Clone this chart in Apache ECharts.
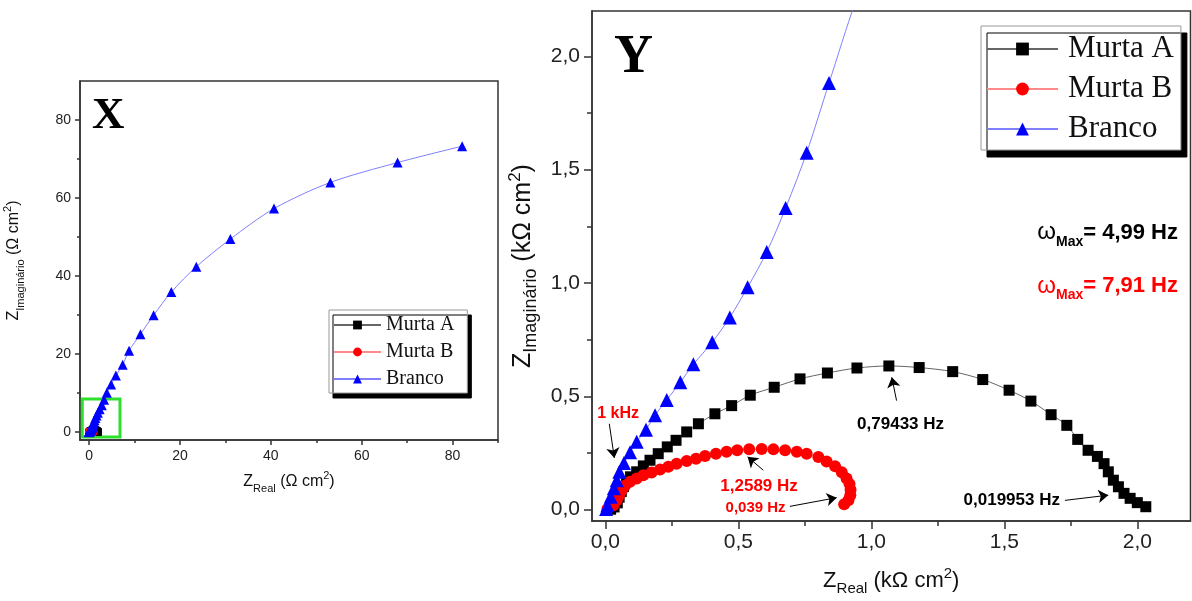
<!DOCTYPE html>
<html>
<head>
<meta charset="utf-8">
<script src="https://cdn.jsdelivr.net/npm/echarts@6/dist/echarts.min.js"></script>
<style>
html, body { margin: 0; padding: 0; background: #fff; }
#chart { width: 1192px; height: 601px; }
</style>
</head>
<body>
<div id="chart"></div>
<script>
// Nyquist data: [Z_real, Z_imaginary], from high to low frequency
const seriesNames = ['Murta A', 'Murta B', 'Branco'];

const murtaA = [
  [0.020, 0.002], [0.033, 0.012], [0.045, 0.030], [0.052, 0.055], [0.060, 0.080],
  [0.068, 0.102], [0.080, 0.124], [0.095, 0.145], [0.118, 0.167], [0.143, 0.193],
  [0.168, 0.218], [0.199, 0.247], [0.233, 0.277], [0.266, 0.306], [0.306, 0.343],
  [0.350, 0.379], [0.412, 0.423], [0.475, 0.459], [0.545, 0.505], [0.635, 0.540],
  [0.732, 0.577], [0.835, 0.603], [0.946, 0.625], [1.066, 0.634], [1.180, 0.627],
  [1.306, 0.609], [1.419, 0.574], [1.518, 0.527], [1.600, 0.479], [1.676, 0.419],
  [1.735, 0.372], [1.776, 0.310], [1.815, 0.262], [1.850, 0.235], [1.875, 0.203],
  [1.891, 0.167], [1.910, 0.130], [1.929, 0.101], [1.950, 0.072], [1.973, 0.050],
  [2.000, 0.031], [2.032, 0.013]
];

const murtaB = [
  [0.008, 0.003], [0.030, 0.020], [0.043, 0.042], [0.052, 0.064], [0.062, 0.086],
  [0.074, 0.105], [0.093, 0.123], [0.118, 0.137], [0.143, 0.152], [0.174, 0.164],
  [0.206, 0.177], [0.237, 0.189], [0.268, 0.203], [0.306, 0.215], [0.341, 0.225],
  [0.375, 0.237], [0.416, 0.247], [0.456, 0.255], [0.496, 0.262], [0.541, 0.267],
  [0.588, 0.268], [0.632, 0.266], [0.676, 0.262], [0.720, 0.256], [0.757, 0.247],
  [0.801, 0.232], [0.832, 0.213], [0.864, 0.191], [0.889, 0.165], [0.907, 0.138],
  [0.918, 0.113], [0.922, 0.088], [0.921, 0.064], [0.914, 0.042], [0.898, 0.024]
];

const branco = [
  [0.003, 0.003], [0.008, 0.020], [0.020, 0.057], [0.032, 0.094], [0.043, 0.130],
  [0.053, 0.167], [0.070, 0.206], [0.093, 0.253], [0.118, 0.300], [0.153, 0.353],
  [0.187, 0.416], [0.231, 0.484], [0.282, 0.562], [0.331, 0.641], [0.402, 0.739],
  [0.468, 0.848], [0.535, 0.981], [0.607, 1.137], [0.678, 1.331], [0.757, 1.575],
  [0.841, 1.882], [0.940, 2.240], [1.060, 2.620], [1.210, 3.080], [1.400, 3.620],
  [1.640, 4.250], [1.940, 4.980], [2.320, 5.850], [2.800, 6.900], [3.300, 8.300],
  [3.900, 10.10], [4.850, 12.20], [5.900, 14.50], [7.400, 17.30], [8.800, 20.90],
  [11.30, 25.10], [14.20, 30.00], [18.10, 35.90], [23.60, 42.40], [31.10, 49.50],
  [40.70, 57.30], [53.10, 64.00], [67.90, 69.10], [82.10, 73.30]
];

// axis ticks
const fullTicks = [0, 20, 40, 60, 80];
const fullMinorX = [10, 30, 50, 70, 90];
const fullMinorY = [10, 30, 50, 70];
const zoomTicks = [0, 0.5, 1.0, 1.5, 2.0];
const zoomMinor = [0.25, 0.75, 1.25, 1.75];

// frequency call-outs on the zoomed plot: label, colour, label centre, arrow tail, arrow head
const callouts = [
  { text: '1 kHz',       color: '#ff0000', size: 16, at: [0.048, 0.423], from: [0.015, 0.379], to: [0.034, 0.228] },
  { text: '0,79433 Hz',  color: '#000000', size: 17, at: [1.110, 0.375], from: [1.095, 0.481], to: [1.077, 0.584] },
  { text: '1,2589 Hz',   color: '#ff0000', size: 17, at: [0.578, 0.104], from: [0.594, 0.174], to: [0.535, 0.233] },
  { text: '0,039 Hz',    color: '#ff0000', size: 15, at: [0.565, 0.009], from: [0.694, 0.0145], to: [0.870, 0.053] },
  { text: '0,019953 Hz', color: '#000000', size: 17, at: [1.528, 0.041], from: [1.728, 0.041], to: [1.891, 0.064] }
];
const omegaMax = [
  { value: '4,99 Hz', color: '#000000', at: [2.153, 1.222] },
  { value: '7,91 Hz', color: '#ff0000', at: [2.153, 0.985] }
];

const SANS = 'Liberation Sans, Arial, sans-serif';
const SERIF = 'Liberation Serif, Times New Roman, serif';
const AXIS = '#333333';
const comma = v => v.toFixed(1).replace('.', ',');

const styles = [
  { symbol: 'rect',     color: '#000000', line: '#666666' },
  { symbol: 'circle',   color: '#ff0000', line: '#ff8a8a' },
  { symbol: 'triangle', color: '#0000ff', line: '#8080ff' }
];
const dataSets = [murtaA, murtaB, branco];

function mainAxis(dim, grid, min, max, ticks, fmt, font, tickLen, margin, name, nameGap, nameFont, subFont) {
  return {
    type: 'value', gridIndex: grid, min: min, max: max,
    position: dim === 'x' ? 'bottom' : 'left',
    name: name, nameLocation: 'middle', nameGap: nameGap,
    nameRotate: dim === 'y' ? 90 : 0,
    nameTextStyle: {
      fontFamily: SANS, fontSize: nameFont, color: '#111', lineHeight: nameFont + 8,
      rich: {
        sub: { fontFamily: SANS, fontSize: subFont, color: '#111', verticalAlign: 'bottom', lineHeight: nameFont + 8 },
        sup: { fontFamily: SANS, fontSize: Math.round(nameFont * 0.68), color: '#111', verticalAlign: 'top', lineHeight: nameFont + 8 }
      }
    },
    axisLine: { show: true, onZero: false, lineStyle: { color: AXIS, width: 1.5 } },
    axisTick: { show: true, inside: false, length: tickLen, customValues: ticks, lineStyle: { color: AXIS, width: 1.5 } },
    axisLabel: { show: true, customValues: ticks, formatter: fmt, fontFamily: SANS, fontSize: font, color: '#222', margin: margin },
    splitLine: { show: false },
    minorTick: { show: false }
  };
}
function minorAxis(dim, grid, min, max, ticks, tickLen) {
  return {
    type: 'value', gridIndex: grid, min: min, max: max,
    position: dim === 'x' ? 'bottom' : 'left',
    axisLine: { show: false, onZero: false },
    axisTick: { show: true, inside: false, length: tickLen, customValues: ticks, lineStyle: { color: AXIS, width: 1.5 } },
    axisLabel: { show: false },
    splitLine: { show: false }
  };
}

const xAxes = [
  mainAxis('x', 0, -2, 90, fullTicks, v => String(v), 14, 5, 9, 'Z{sub|Real} (Ω cm{sup|2})', 30, 16, 11),
  minorAxis('x', 0, -2, 90, fullMinorX, 3),
  mainAxis('x', 1, -0.05, 2.2, zoomTicks, comma, 21, 8, 11, 'Z{sub|Real} (kΩ cm{sup|2})', 45, 22, 15),
  minorAxis('x', 1, -0.05, 2.2, zoomMinor, 5)
];
const yAxes = [
  mainAxis('y', 0, -2, 90, fullTicks, v => String(v), 14, 5, 9, 'Z{sub|Imaginário} (Ω cm{sup|2})', 54, 16, 11),
  minorAxis('y', 0, -2, 90, fullMinorY, 3),
  mainAxis('y', 1, -0.05, 2.2, zoomTicks, comma, 21, 8, 12, 'Z{sub|Imaginário} (kΩ cm{sup|2})', 48, 25, 18),
  minorAxis('y', 1, -0.05, 2.2, zoomMinor, 5)
];

const series = [];
[[0, 0, [7, 8, 10]], [2, 2, [11, 12, 14]]].forEach(([xi, yi, sizes]) => {
  seriesNames.forEach((name, i) => {
    series.push({
      name: name, type: 'line', xAxisIndex: xi, yAxisIndex: yi,
      data: dataSets[i], smooth: 0.3,
      symbol: styles[i].symbol, symbolSize: sizes[i], showAllSymbol: true,
      itemStyle: { color: styles[i].color },
      lineStyle: { color: styles[i].line, width: 1 },
      clip: true, silent: true, z: 2 + i
    });
  });
});
// zoom window marked on the full plot
series[2].markArea = {
  silent: true,
  itemStyle: { color: 'rgba(0,0,0,0)', borderColor: '#2ee02e', borderWidth: 3 },
  data: [[{ xAxis: -1.5, yAxis: -1.2 }, { xAxis: 6.8, yAxis: 8.5 }]]
};
// arrows of the frequency call-outs
series.push({
  name: 'arrows', type: 'line', xAxisIndex: 2, yAxisIndex: 2, data: [], silent: true, z: 6,
  markLine: {
    silent: true, symbol: ['none', 'arrow'], symbolSize: 10,
    lineStyle: { color: '#000', width: 1, type: 'solid' },
    itemStyle: { color: '#000' },
    label: { show: false },
    data: callouts.map(c => [{ coord: c.from }, { coord: c.to }])
  }
});

const legendBase = {
  orient: 'vertical', backgroundColor: '#fff', borderColor: '#999', borderWidth: 1,
  shadowBlur: 0, shadowColor: '#000', selectedMode: false, data: seriesNames
};

const option = {
  animation: false,
  backgroundColor: '#fff',
  grid: [
    { left: 80, top: 81, right: 694, bottom: 161, show: true, borderColor: AXIS, borderWidth: 1.5, backgroundColor: 'transparent' },
    { left: 592, top: 11, right: 1.5, bottom: 79, show: true, borderColor: AXIS, borderWidth: 1.5, backgroundColor: 'transparent' }
  ],
  xAxis: xAxes,
  yAxis: yAxes,
  legend: [
    Object.assign({}, legendBase, {
      left: 329, top: 310, padding: [3, 13, 2, 4], itemGap: 3, itemWidth: 47, itemHeight: 11,
      shadowOffsetX: 4, shadowOffsetY: 5,
      textStyle: { fontFamily: SERIF, fontSize: 20, lineHeight: 24, color: '#111' }
    }),
    Object.assign({}, legendBase, {
      left: 981, top: 26, padding: [5, 7, 3, 5], itemGap: 4, itemWidth: 71, itemHeight: 16,
      shadowOffsetX: 6, shadowOffsetY: 7,
      textStyle: { fontFamily: SERIF, fontSize: 31, lineHeight: 36, color: '#111', padding: [0, 0, 0, 5] }
    })
  ],
  series: series
};

const chart = echarts.init(document.getElementById('chart'));
chart.setOption(option);

// text layer placed through the zoomed plot's own coordinate system
const zoomSeries = 5;
const px = p => chart.convertToPixel({ seriesIndex: zoomSeries }, p);
const graphics = [
  { type: 'text', left: 92, top: 94, silent: true,
    style: { text: 'X', fontFamily: SERIF, fontWeight: 'bold', fontSize: 45, fill: '#000' } },
  { type: 'text', left: 614, top: 31, silent: true,
    style: { text: 'Y', fontFamily: SERIF, fontWeight: 'bold', fontSize: 54, fill: '#000' } }
];
callouts.forEach(c => {
  const p = px(c.at);
  graphics.push({
    type: 'text', x: p[0], y: p[1], silent: true, z: 10,
    style: { text: c.text, fontFamily: SANS, fontWeight: 'bold', fontSize: c.size, fill: c.color, align: 'center', verticalAlign: 'middle' }
  });
});
omegaMax.forEach(o => {
  const p = px(o.at);
  graphics.push({
    type: 'text', x: p[0], y: p[1], silent: true, z: 10,
    style: {
      text: '{w|ω}{s|Max}{t|= ' + o.value + '}', align: 'right', verticalAlign: 'middle',
      rich: {
        w: { fontFamily: SANS, fontSize: 24, fill: o.color, lineHeight: 32, verticalAlign: 'middle' },
        s: { fontFamily: SANS, fontWeight: 'bold', fontSize: 14, fill: o.color, lineHeight: 32, verticalAlign: 'bottom' },
        t: { fontFamily: SANS, fontWeight: 'bold', fontSize: 22, fill: o.color, lineHeight: 32, verticalAlign: 'middle' }
      }
    }
  });
});
chart.setOption({ graphic: graphics });
</script>
</body>
</html>
